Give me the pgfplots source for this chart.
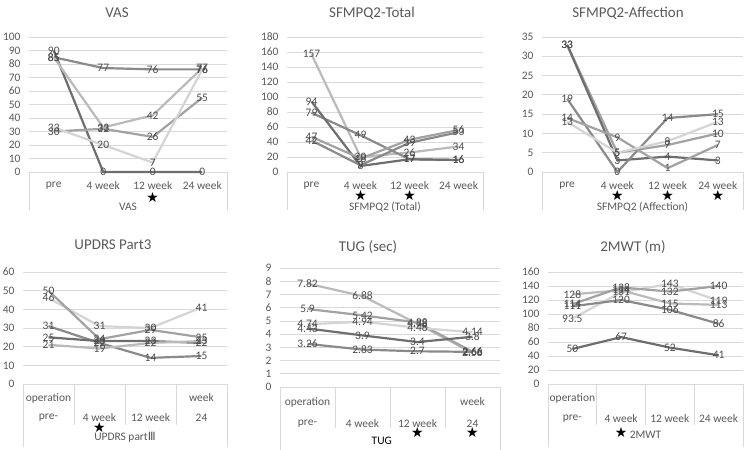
\documentclass[border=0pt]{standalone}
\usepackage{pgfplots}
\pgfplotsset{compat=1.18}
\usepackage{fontspec}
\setmainfont{Carlito}
\newfontfamily\dejavu{DejaVu Sans}

\definecolor{cA}{RGB}{212,212,212}
\definecolor{cB}{RGB}{186,186,186}
\definecolor{cC}{RGB}{162,162,162}
\definecolor{cD}{RGB}{138,138,138}
\definecolor{cE}{RGB}{110,110,110}
\definecolor{txt}{RGB}{89,89,89}
\definecolor{gridc}{RGB}{217,217,217}

\newcommand\lab{\fontsize{11.5}{13}\selectfont}
\newcommand\ttl{\fontsize{15}{18}\selectfont}
\newcommand\sigstar[2]{\node[font=\dejavu\fontsize{14}{14}\selectfont] at ([yshift=#2]axis cs:#1,0) {★};}

\pgfplotsset{
  panel/.style={
    scale only axis, anchor=south west,
    xmin=-0.5, xmax=3.5, ymin=0,
    axis line style={draw=none},
    ymajorgrids, major grid style={gridc, line width=0.75bp},
    xtick=\empty, major tick length=0pt,
    yticklabel style={font=\lab, text=txt, xshift=-5bp},
    /pgf/number format/assume math mode=true,
    clip=false,
    point meta=y,
    nodes near coords,
    every node near coord/.append style={anchor=center, font=\lab, text=txt!85!black},
    every axis plot/.append style={line width=2.2bp, mark=none},
  },
}

% top row decorations: simple category labels, outer lines
\newcommand\toprow[1]{
  \draw[gridc, line width=0.75bp] (axis cs:-0.5,0) -- ++(0pt,-38bp);
  \draw[gridc, line width=0.75bp] (axis cs:3.5,0) -- ++(0pt,-38bp);
  \node[font=\lab, text=txt] at ([yshift=-14bp]axis cs:0,0) {pre};
  \node[font=\lab, text=txt] at ([yshift=-14bp]axis cs:1,0) {4 week};
  \node[font=\lab, text=txt] at ([yshift=-14bp]axis cs:2,0) {12 week};
  \node[font=\lab, text=txt] at ([yshift=-14bp]axis cs:3,0) {24 week};
  \node[font=\lab, text=txt] at ([yshift=-35bp]axis cs:1.5,0) {#1};
}
% bottom row boxes: #1 separator depth, #2 outer depth
\newcommand\botlines[2]{
  \draw[gridc, line width=0.75bp] (axis cs:-0.5,0) -- ++(0pt,-#2);
  \draw[gridc, line width=0.75bp] (axis cs:3.5,0) -- ++(0pt,-#2);
  \draw[gridc, line width=0.75bp] (axis cs:0.5,0) -- ++(0pt,-#1);
  \draw[gridc, line width=0.75bp] (axis cs:1.5,0) -- ++(0pt,-#1);
  \draw[gridc, line width=0.75bp] (axis cs:2.5,0) -- ++(0pt,-#1);
}

\begin{document}
\begin{tikzpicture}
\path[use as bounding box] (0,0) rectangle (748bp,450bp);

\node[font=\ttl, text=txt] at (117bp,437bp) {VAS};
\node[font=\ttl, text=txt] at (372bp,437bp) {SFMPQ2-Total};
\node[font=\ttl, text=txt] at (628bp,437bp) {SFMPQ2-Affection};
\node[font=\ttl, text=txt] at (113bp,205bp) {UPDRS Part3};
\node[font=\ttl, text=txt] at (368bp,203bp) {TUG (sec)};
\node[font=\ttl, text=txt] at (633bp,203bp) {2MWT (m)};

% VAS
\begin{axis}[panel, at={(29bp,278bp)}, width=198bp, height=135bp,
  ymax=100, ytick distance=10]
\addplot[cD] coordinates {(0,85) (1,77) (2,76) (3,76)};
\addplot[cE] coordinates {(0,90) (1,0) (2,0) (3,0)};
\addplot[cB] coordinates {(0,85) (1,33) (2,42) (3,77)};
\addplot[cC] coordinates {(0,30) (1,32) (2,26) (3,55)};
\addplot[cA] coordinates {(0,33) (1,20) (2,7) (3,76)};
\toprow{VAS}
\sigstar{2}{-25bp}
\end{axis}

% SFMPQ2 total
\begin{axis}[panel, at={(287bp,278bp)}, width=196bp, height=135bp,
  ymax=180, ytick distance=20]
\addplot[cB] coordinates {(0,157) (1,20) (2,26) (3,34)};
\addplot[cD] coordinates {(0,79) (1,49) (2,17) (3,16)};
\addplot[cE] coordinates {(0,94) (1,8) (2,17) (3,16)};
\addplot[cC] coordinates {(0,47) (1,18) (2,43) (3,56)};
\addplot[cD] coordinates {(0,42) (1,9) (2,39) (3,53)};
\toprow{SFMPQ2 (Total)}
\sigstar{1}{-23bp}
\sigstar{2}{-23bp}
\end{axis}

% SFMPQ2 affection
\begin{axis}[panel, at={(542bp,278bp)}, width=201bp, height=135bp,
  ymax=35, ytick distance=5]
\addplot[cC] coordinates {(0,33) (1,5) (2,7) (3,10)};
\addplot[cE] coordinates {(0,33) (1,3) (2,4) (3,3)};
\addplot[cD] coordinates {(0,19) (1,0) (2,14) (3,15)};
\addplot[cC] coordinates {(0,14) (1,9) (2,1) (3,7)};
\addplot[cA] coordinates {(0,13) (1,5) (2,8) (3,13)};
\toprow{SFMPQ2 (Affection)}
\sigstar{1}{-23bp}
\sigstar{2}{-23bp}
\sigstar{3}{-23bp}
\end{axis}

% UPDRS
\begin{axis}[panel, at={(23bp,66bp)}, width=204bp, height=112bp,
  ymax=60, ytick distance=10]
\addplot[cA] coordinates {(0,46) (1,31) (2,30) (3,41)};
\addplot[cC] coordinates {(0,50) (1,24) (2,29) (3,25)};
\addplot[cD] coordinates {(0,31) (1,22) (2,14) (3,15)};
\addplot[cE] coordinates {(0,25) (1,23) (2,23) (3,22)};
\addplot[cB] coordinates {(0,21) (1,19) (2,22) (3,23)};
\botlines{41bp}{63bp}
\node[font=\lab, text=txt] at ([yshift=-14bp]axis cs:0,0) {operation};
\node[font=\lab, text=txt] at ([yshift=-34bp]axis cs:0,0) {pre-};
\node[font=\lab, text=txt] at ([yshift=-34bp]axis cs:1,0) {4 week};
\node[font=\lab, text=txt] at ([yshift=-34bp]axis cs:2,0) {12 week};
\node[font=\lab, text=txt] at ([yshift=-14bp]axis cs:3,0) {week};
\node[font=\lab, text=txt] at ([yshift=-34bp]axis cs:3,0) {24};
\node[font=\lab, text=txt] at ([yshift=-53bp]axis cs:1.5,0) {UPDRS part{\dejavu Ⅲ}};
\sigstar{1}{-43bp}
\end{axis}

% TUG
\begin{axis}[panel, at={(280bp,63bp)}, width=220bp, height=119bp,
  ymax=9, ytick distance=1]
\addplot[cB] coordinates {(0,7.82) (1,6.88) (2,4.78) (3,2.58)};
\addplot[cC] coordinates {(0,5.9) (1,5.42) (2,4.88) (3,2.66)};
\addplot[cA] coordinates {(0,4.74) (1,4.94) (2,4.48) (3,4.14)};
\addplot[cE] coordinates {(0,4.43) (1,3.9) (2,3.4) (3,3.8)};
\addplot[cD] coordinates {(0,3.26) (1,2.83) (2,2.7) (3,2.66)};
\botlines{41bp}{63bp}
\node[font=\lab, text=txt] at ([yshift=-15bp]axis cs:0,0) {operation};
\node[font=\lab, text=txt] at ([yshift=-37bp]axis cs:0,0) {pre-};
\node[font=\lab, text=txt] at ([yshift=-37bp]axis cs:1,0) {4 week};
\node[font=\lab, text=txt] at ([yshift=-37bp]axis cs:2,0) {12 week};
\node[font=\lab, text=txt] at ([yshift=-15bp]axis cs:3,0) {week};
\node[font=\lab, text=txt] at ([yshift=-37bp]axis cs:3,0) {24};
\node[font=\lab, text=black] at ([yshift=-54bp]axis cs:1.35,0) {TUG};
\sigstar{2}{-45bp}
\sigstar{3}{-45bp}
\end{axis}

% 2MWT
\begin{axis}[panel, at={(548bp,66bp)}, width=195bp, height=112bp,
  ymax=160, ytick distance=20]
\addplot[cA] coordinates {(0,93.5) (1,131) (2,143) (3,119)};
\addplot[cB] coordinates {(0,128) (1,134) (2,115) (3,113)};
\addplot[cC] coordinates {(0,114) (1,138) (2,132) (3,140)};
\addplot[cD] coordinates {(0,111) (1,120) (2,106) (3,86)};
\addplot[cE] coordinates {(0,50) (1,67) (2,52) (3,41)};
\botlines{41bp}{63bp}
\node[font=\lab, text=txt] at ([yshift=-14bp]axis cs:0,0) {operation};
\node[font=\lab, text=txt] at ([yshift=-35bp]axis cs:0,0) {pre-};
\node[font=\lab, text=txt] at ([yshift=-35bp]axis cs:1,0) {4 week};
\node[font=\lab, text=txt] at ([yshift=-35bp]axis cs:2,0) {12 week};
\node[font=\lab, text=txt] at ([yshift=-35bp]axis cs:3,0) {24 week};
\node[font=\lab, text=txt] at ([yshift=-51bp]axis cs:1.5,0) {2MWT};
\sigstar{1}{-48bp}
\end{axis}
\end{tikzpicture}
\end{document}
